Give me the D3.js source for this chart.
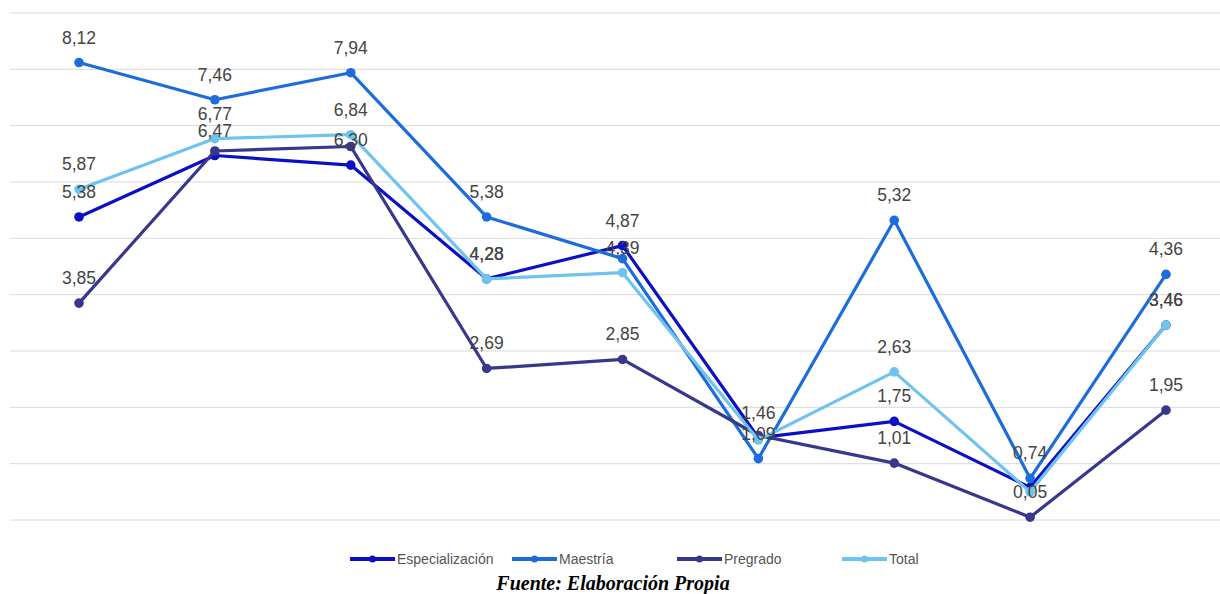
<!DOCTYPE html>
<html>
<head>
<meta charset="utf-8">
<script src="https://cdn.jsdelivr.net/npm/d3@7/dist/d3.min.js"></script>
<style>
  html, body { margin: 0; padding: 0; background: #fff; }
  svg { display: block; }
</style>
</head>
<body>
<svg id="chart" width="1220" height="594"></svg>
<script>
// Category slots along the x axis (nine measurement points)
const categories = ["1", "2", "3", "4", "5", "6", "7", "8", "9"];

// Series values
const especializacion = [5.38, 6.47, 6.30, 4.28, 4.87, 1.46, 1.75, 0.58, 3.46];
const maestria        = [8.12, 7.46, 7.94, 5.38, 4.64, 1.09, 5.32, 0.74, 4.36];
const pregrado        = [3.85, 6.55, 6.63, 2.69, 2.85, 1.50, 1.01, 0.05, 1.95];
const total           = [5.87, 6.77, 6.84, 4.28, 4.39, 1.42, 2.63, 0.50, 3.46];

// Indices of points whose value label is not printed (hidden by overlap)
const hiddenEspecializacion = [7];
const hiddenMaestria = [4];
const hiddenPregrado = [1, 2, 5];
const hiddenTotal = [5, 7];

// Gridline values
const gridValues = [0, 1, 2, 3, 4, 5, 6, 7, 8, 9];

const seriesNames = ["Especialización", "Maestría", "Pregrado", "Total"];
const seriesColors = ["#0c10c4", "#1c6ddb", "#37378c", "#6fc4ee"];

const series = [
  { name: seriesNames[0], values: especializacion, hidden: hiddenEspecializacion, color: seriesColors[0] },
  { name: seriesNames[1], values: maestria, hidden: hiddenMaestria, color: seriesColors[1] },
  { name: seriesNames[2], values: pregrado, hidden: hiddenPregrado, color: seriesColors[2] },
  { name: seriesNames[3], values: total, hidden: hiddenTotal, color: seriesColors[3] }
];

const svg = d3.select("#chart");
const font = "Arial, 'Liberation Sans', sans-serif";

const x = d3.scalePoint().domain(categories).range([79, 1166]);
const y = d3.scaleLinear().domain([0, 9]).range([520, 13]);

// Horizontal gridlines
svg.append("g")
  .selectAll("line")
  .data(gridValues)
  .join("line")
  .attr("x1", 10).attr("x2", 1220)
  .attr("y1", d => y(d)).attr("y2", d => y(d))
  .attr("stroke", "#dadada")
  .attr("stroke-width", 1);

const line = d3.line()
  .x((d, i) => x(categories[i]))
  .y(d => y(d));

// Lines and markers
series.forEach(s => {
  const g = svg.append("g");
  g.append("path")
    .attr("d", line(s.values))
    .attr("fill", "none")
    .attr("stroke", s.color)
    .attr("stroke-width", 3.2)
    .attr("stroke-linejoin", "round");
  g.selectAll("circle")
    .data(s.values)
    .join("circle")
    .attr("cx", (d, i) => x(categories[i]))
    .attr("cy", d => y(d))
    .attr("r", 4.8)
    .attr("fill", s.color);
});

// Value labels
const fmt = v => d3.format(".2f")(v).replace(".", ",");
series.forEach(s => {
  svg.append("g")
    .selectAll("text")
    .data(s.values.map((v, i) => ({ v, i })).filter(d => !s.hidden.includes(d.i)))
    .join("text")
    .attr("x", d => x(categories[d.i]))
    .attr("y", d => y(d.v) - 19)
    .attr("text-anchor", "middle")
    .attr("font-family", font)
    .attr("font-size", 17.5)
    .attr("fill", "#444")
    .text(d => fmt(d.v));
});

// Legend
const legendX = [350, 512, 677, 842];
const legend = svg.append("g");
series.forEach((s, i) => {
  const lx = legendX[i], ly = 559;
  legend.append("line")
    .attr("x1", lx).attr("x2", lx + 45)
    .attr("y1", ly).attr("y2", ly)
    .attr("stroke", s.color).attr("stroke-width", 4);
  legend.append("circle")
    .attr("cx", lx + 22.5).attr("cy", ly).attr("r", 3.5)
    .attr("fill", s.color);
  legend.append("text")
    .attr("x", lx + 47).attr("y", ly + 5)
    .attr("font-family", font)
    .attr("font-size", 14)
    .attr("fill", "#555")
    .text(s.name);
});

// Source caption
svg.append("text")
  .attr("x", 613).attr("y", 590)
  .attr("text-anchor", "middle")
  .attr("font-family", "'Liberation Serif', 'Times New Roman', serif")
  .attr("font-weight", "bold")
  .attr("font-style", "italic")
  .attr("font-size", 20)
  .attr("fill", "#000")
  .text("Fuente: Elaboración Propia");
</script>
</body>
</html>
